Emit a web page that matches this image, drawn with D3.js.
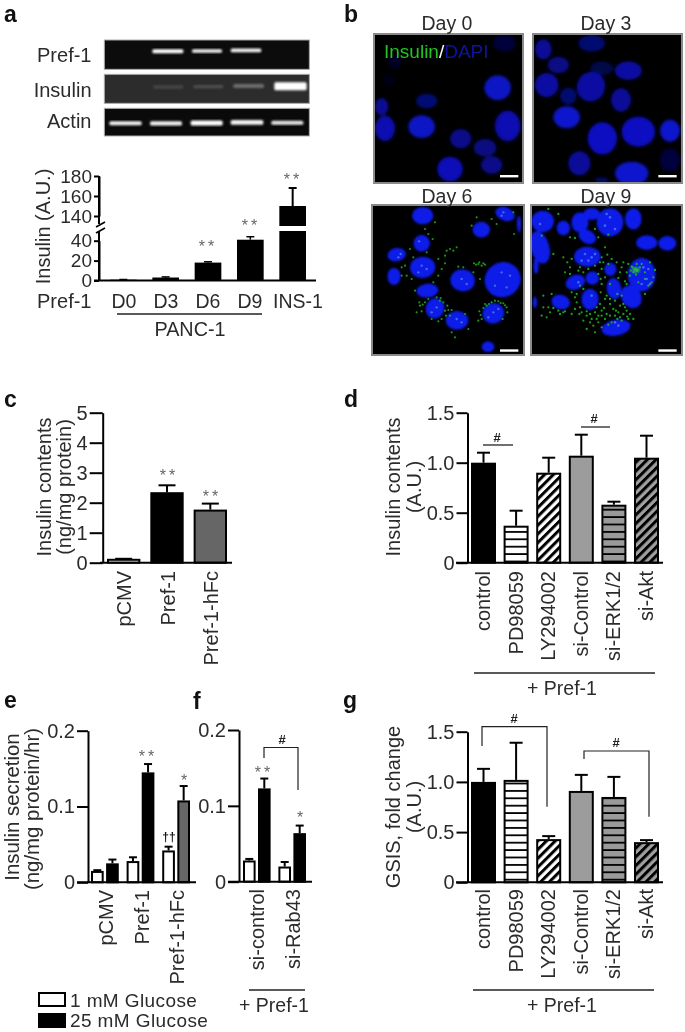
<!DOCTYPE html>
<html><head><meta charset="utf-8">
<script src="https://cdn.jsdelivr.net/npm/d3@7"></script>
<style>
html,body{margin:0;padding:0;background:#fff;width:685px;height:1032px;overflow:hidden}
svg{display:block;filter:blur(0.4px)}
text{font-family:"Liberation Sans",Arial,sans-serif;fill:#2b2b2b}
</style></head><body>
<svg id="c" width="685" height="1032"></svg>
<script>
// ---------- gel data (relative band intensity; lane order D0 D3 D6 D9 INS-1)
const gelRows = ["Pref-1","Insulin","Actin"];
const gelPref = [0,1,0.95,0.95,0];
const gelIns  = [0,0.16,0.22,0.42,1];
const gelAct  = [0.95,0.95,1,0.95,0.9];
const gelThick = [[0,12,10,11,0],[0,10,10,12,24],[12,13,15,14,12]];

// ---------- panel a
const aCats = ["D0","D3","D6","D9","INS-1"];
const aVals = [0.8,3,18,41,150];
const aErr  = [1,3.6,18.8,44,168];
const aLowTicks = [0,20,40];
const aHighTicks = [140,160,180];
// ---------- panel c
const cCats = ["pCMV","Pref-1","Pref-1-hFc"];
const cVals = [0.13,2.35,1.77];
const cErr  = [0.13,2.58,1.97];
const cTicks = [0,1,2,3,4,5];
// ---------- panel d
const dCats = ["control","PD98059","LY294002","si-Control","si-ERK1/2","si-Akt"];
const dVals = [1.0,0.37,0.9,1.07,0.58,1.05];
const dErr  = [1.1,0.52,1.05,1.28,0.61,1.27];
const fracTicks = [0,0.5,1.0,1.5];
// ---------- panel e
const eCats = ["pCMV","Pref-1","Pref-1-hFc"];
const eLow  = [0.015,0.028,0.042];
const eHigh = [0.025,0.145,0.108];
const eLowErr  = [0.016,0.033,0.047];
const eHighErr = [0.030,0.156,0.127];
const secTicks = [0,0.1,0.2];
// ---------- panel f
const fCats = ["si-control","si-Rab43"];
const fLow  = [0.028,0.02];
const fHigh = [0.123,0.064];
const fLowErr  = [0.030,0.026];
const fHighErr = [0.136,0.074];
// ---------- panel g
const gCats = dCats;
const gVals = [1.0,1.02,0.43,0.91,0.85,0.40];
const gErr  = [1.13,1.39,0.46,1.07,1.05,0.42];
const legendLabels = ["1 mM Glucose","25 mM Glucose"];

// ---------- micrographs: nuclei [cx,cy,rx,ry,rot]
const day0Nuclei = [[458,263,40,37,0,1],[230,380,40,34,0,1],[120,385,30,38,0,.9],[488,378,38,46,0,.9],[347,416,32,29,0,.7],[420,443,34,27,0,.65],[440,495,32,27,0,.7],[315,507,38,37,0,.95],[245,303,32,22,0,.6],[110,320,20,26,0,.75],[478,130,34,25,0,.3],[150,185,20,20,0,.2],[130,240,20,20,0,.1]];
const day3Nuclei = [[605,255,35,36,0,.8],[595,148,25,30,0,.75],[640,195,32,25,0,.65],[738,260,42,45,20,.8],[850,212,40,28,0,.8],[770,205,35,22,0,.35],[740,130,40,25,0,.55],[670,288,25,25,0,.55],[828,300,30,35,0,.75],[665,352,40,33,0,1],[772,415,44,48,0,.95],[880,395,50,45,0,.95],[975,392,30,33,0,1],[703,490,33,36,0,.75],[860,520,50,35,0,1],[975,480,30,35,0,.3],[770,540,20,8,0,.5]];
const day6Nuclei = [[158,35,32,26,0],[334,77,26,24,0],[155,118,25,25,0],[80,152,28,20,-10],[72,217,20,26,0],[158,190,38,32,-5],[278,229,37,33,10],[398,227,55,52,-30],[172,260,33,21,-5],[195,313,28,31,20],[261,349,34,28,0],[370,328,33,31,-20],[405,30,30,20,20],[447,60,6,25,0],[354,428,19,16,0]];
const day9Nuclei = [[38,52,34,32,0],[100,72,20,22,0],[150,55,26,30,0],[172,98,28,20,30],[240,55,40,42,0],[310,45,25,32,0],[185,30,25,18,0],[30,130,28,50,-15],[18,185,8,25,0],[172,158,40,30,0],[350,116,32,22,0],[412,118,27,22,0],[241,196,18,20,0],[136,235,30,22,-20],[187,222,20,20,0],[252,254,22,32,-10],[180,286,26,32,0],[335,212,42,50,0],[304,278,30,36,-30],[92,294,28,22,15],[15,295,6,18,0],[258,371,44,24,-10]];
const day6Green = [[120,135],[130,160],[105,185],[95,190],[110,215],[125,225],[135,260],[190,235],[205,215],[215,195],[205,165],[225,155],[240,135],[260,130],[225,178],[265,188],[280,190],[310,205],[325,180],[340,178],[318,182],[335,185],[165,295],[150,305],[140,325],[155,322],[175,285],[200,280],[220,295],[235,318],[228,335],[215,345],[185,345],[205,352],[245,318],[255,400],[245,385],[285,330],[295,375],[328,322],[340,312],[350,305],[365,295],[385,292],[400,298],[410,310],[412,325],[398,345],[335,345],[345,300],[320,40],[305,65],[365,45],[380,60],[432,90],[430,25],[165,75],[195,55],[188,105],[175,90],[330,225],[392,297],[375,290],[357,300],[232,305],[240,335],[210,290],[148,295],[95,215],[170,145],[328,175],[345,182],[312,178],[230,140],[250,140],[225,320],[212,282],[158,302],[405,304],[332,333],[325,350]];
const day9Green = [[55,15],[85,30],[35,95],[120,100],[135,102],[195,75],[205,100],[235,92],[70,150],[100,160],[112,175],[125,165],[120,190],[145,200],[160,205],[175,195],[215,160],[232,152],[245,165],[260,175],[280,175],[295,180],[305,188],[315,195],[322,200],[310,205],[330,190],[215,195],[225,220],[215,240],[212,265],[225,285],[210,300],[222,312],[195,325],[205,335],[180,330],[170,335],[150,310],[135,280],[140,295],[160,255],[125,265],[285,232],[290,240],[240,300],[250,315],[265,325],[280,330],[290,320],[300,330],[270,340],[240,335],[225,345],[205,355],[190,365],[215,370],[200,345],[295,345],[310,345],[285,310],[255,290],[345,270],[375,198],[360,175],[345,225],[355,245],[345,205],[325,235],[100,325],[105,322],[85,320],[70,312],[60,325],[50,340],[35,335],[40,275],[65,270],[135,315],[90,330],[125,330],[160,350],[180,355],[240,240],[270,205],[275,275],[225,130],[290,205],[300,215],[230,330],[245,355],[170,375],[195,385],[40,310],[55,310],[275,350],[270,305],[262,270],[220,175],[235,180],[205,210],[275,190],[265,222],[212,225],[230,275],[240,285],[215,320],[255,335],[185,345],[170,322],[155,325],[148,330],[140,270],[150,245],[120,210],[105,205],[150,190],[195,185],[210,175],[320,180],[302,200],[318,212],[308,190],[335,180],[370,220],[365,235],[280,300],[292,338],[258,320],[262,345],[215,335],[235,362],[200,310]];
const day6Spots = [[147,112],[92,150],[85,160],[155,185],[170,195],[145,205],[275,225],[290,240],[395,205],[410,250],[375,245],[420,215],[200,310],[185,325],[260,345],[275,355],[370,325],[385,315],[355,340],[400,25],[395,35]];
const day9Spots = [[165,150],[185,160],[155,170],[175,170],[195,150],[240,40],[225,65],[255,75],[230,30],[340,190],[355,195],[350,225],[360,240],[335,240],[255,355],[265,365],[145,235],[30,60],[185,275]];
const scaleBarsB = [[465,520,528],[940,995,528]];

const svg = d3.select("#c");
const defs = svg.append("defs");
function blurF(id,s){defs.append("filter").attr("id",id).attr("x","-30%").attr("y","-30%").attr("width","160%").attr("height","160%").append("feGaussianBlur").attr("stdDeviation",s);}
blurF("b1",1);blurF("b3",1.7);blurF("bBand",0.9);blurF("bDot",0.6);
function pat(id,bg,kind){
  const p=defs.append("pattern").attr("id",id).attr("patternUnits","userSpaceOnUse");
  if(kind==="h"){p.attr("width",10).attr("height",7.4);
    p.append("rect").attr("width",10).attr("height",7.4).attr("fill",bg);
    p.append("rect").attr("y",5.6).attr("width",10).attr("height",1.9).attr("fill","#000");
  } else {p.attr("width",6.2).attr("height",6.2).attr("patternTransform","rotate(45)");
    p.append("rect").attr("width",6.2).attr("height",6.2).attr("fill",bg);
    p.append("rect").attr("width",3).attr("height",6.2).attr("fill","#000");
  }
}
pat("hw","#fff","h");pat("hg","#9a9a9a","h");pat("dw","#fff","d");pat("dg","#a0a0a0","d");
const sixFills=["#000","url(#hw)","url(#dw)","#9c9c9c","url(#hg)","url(#dg)"];

function txt(x,y,s,o={}){
  const t=svg.append("text").attr("x",x).attr("y",y).text(s)
    .attr("font-size",o.size||19).attr("text-anchor",o.anchor||"start");
  if(o.weight)t.attr("font-weight",o.weight);
  if(o.fill)t.style("fill",o.fill);
  if(o.ls)t.attr("letter-spacing",o.ls);
  if(o.rot)t.attr("transform",`rotate(-90 ${x} ${y})`);
  return t;
}
function line(x1,y1,x2,y2,w=1.3,c="#222"){svg.append("line").attr("x1",x1).attr("y1",y1).attr("x2",x2).attr("y2",y2).attr("stroke",c).attr("stroke-width",w);}
function stars(x,cy,s){txt(x,cy+9,s,{size:16,anchor:"middle",fill:"#666",ls:s.length>1?"3px":null});}
function hash(x,cy){txt(x,cy+5,"#",{size:13,anchor:"middle",weight:"bold",fill:"#222"});}
function bracket(x1,x2,top,b1,b2){svg.append("path").attr("d",`M${x1},${b1}V${top}H${x2}V${b2}`).attr("fill","none").attr("stroke","#222").attr("stroke-width",1.2);}

function yAxis(y,x,ticks,fmt,tickLen,size,pad){
  const g=svg.append("g").attr("transform",`translate(${x},0)`)
    .call(d3.axisLeft(y).tickValues(ticks).tickSize(tickLen).tickPadding(pad).tickFormat(fmt).tickSizeOuter(0));
  g.selectAll("path,line").attr("stroke","#000").attr("stroke-width",2);
  g.selectAll("text").attr("font-size",size).attr("font-family",null);
  return g;
}
function xBaseline(x1,x2,y){line(x1,y,x2,y,2,"#000");}
function bar(x,w,y0,yT,fill,sw=2){
  svg.append("rect").attr("x",x+sw/2).attr("y",yT+sw/2).attr("width",w-sw).attr("height",Math.max(0,y0-yT-sw/2)).attr("fill",fill).attr("stroke","#000").attr("stroke-width",sw);
}
function err(cx,yFrom,yTo,cap,w=2){line(cx,yFrom,cx,yTo,w,"#000");line(cx-cap/2,yTo,cx+cap/2,yTo,w,"#000");}
function xLabels(cats,centers,top,dx,size=20){cats.forEach((c,i)=>txt(centers[i]+dx,top,c,{size,anchor:"end",rot:true}));}

// ---------- panel letters
[["a",4,22],["b",344,22],["c",4,407],["d",344,407],["e",4,708],["f",193,709],["g",343,708]]
  .forEach(d=>txt(d[1],d[2],d[0],{size:23,weight:"bold",fill:"#111"}));

// ---------- gel
const gelX=d3.scaleLinear().domain([0,636]).range([100,312]);
const gelY=d3.scaleLinear().domain([0,312]).range([36,140]);
const gelBoxes=[[12,100,"#0c0c0c"],[115,202,"#2c2c2c"],[217,300,"#0a0a0a"]];
const gelLanes=[[[36,126],[157,250],[276,366],[392,484],[523,620]],[[36,126],[160,250],[280,370],[400,492],[523,620]],[[28,125],[150,246],[272,368],[392,490],[514,610]]];
const gelCY=[[46,46,45,43,43],[152,153,152,150,151],[262,262,261,259,260,260]];
const gelLbl=[62,97,128];
[gelPref,gelIns,gelAct].forEach((row,r)=>{
  const b=gelBoxes[r];
  svg.append("rect").attr("x",gelX(13)).attr("y",gelY(b[0])).attr("width",gelX(628)-gelX(13)).attr("height",gelY(b[1])-gelY(b[0]))
    .attr("fill",b[2]).attr("stroke","#aaa").attr("stroke-width",1);
  row.forEach((v,i)=>{ if(!v)return;
    const l=gelLanes[r][i],h=gelThick[r][i];
    const lum=r===1&&i<4?"#c8c8c8":"#fff";
    svg.append("rect").attr("x",gelX(l[0])).attr("width",gelX(l[1])-gelX(l[0]))
      .attr("y",gelY(gelCY[r][i]-h/2)).attr("height",gelY(h)-gelY(0)).attr("rx",1.5)
      .attr("fill",lum).attr("opacity",v).attr("filter","url(#bBand)");
  });
  txt(91.5,gelLbl[r],gelRows[r],{size:20,anchor:"end"});
});

// ---------- panel a chart
const aLow=d3.scaleLinear().domain([0,40]).range([280.5,240.7]);
const aHigh=d3.scaleLinear().domain([140,180]).range([216,176]);
const aX=d3.scaleBand().domain(aCats).range([110,306]).paddingInner(.37);
const f0=d3.format("d");
yAxis(aLow,99,aLowTicks,f0,5,19,2);
yAxis(aHigh,99,aHighTicks,f0,5,19,2);
line(99,176,99,224,2,"#000");line(99,231,99,280.5,2,"#000");
line(96,227,105,222,1.6,"#000");line(96,233,105,228,1.6,"#000");
aCats.forEach((c,i)=>{
  const x=aX(c),w=aX.bandwidth(),cx=x+w/2;
  if(aVals[i]>100){
    err(cx,aHigh(aVals[i]),aHigh(aErr[i]),8);
    svg.append("rect").attr("x",x).attr("y",aHigh(aVals[i])).attr("width",w).attr("height",226-aHigh(aVals[i])).attr("fill","#000");
    svg.append("rect").attr("x",x).attr("y",231).attr("width",w).attr("height",aLow(0)-231).attr("fill","#000");
  } else {
    err(cx,aLow(aVals[i]),aLow(aErr[i]),8,1.5);
    svg.append("rect").attr("x",x).attr("y",aLow(aVals[i])).attr("width",w).attr("height",aLow(0)-aLow(aVals[i])).attr("fill","#000");
  }
});
xBaseline(94,316,280.5);
txt(50,226.5,"Insulin (A.U.)",{size:20,anchor:"middle",rot:true});
stars(208,243,"**");stars(251,222,"**");stars(293,176,"**");
txt(91.5,308,"Pref-1",{size:20,anchor:"end"});
[["D0",124],["D3",166],["D6",208],["D9",250],["INS-1",298]].forEach(d=>txt(d[1],308,d[0],{size:19.5,anchor:"middle"}));
line(117,314,262,314,1.4);
txt(190,336,"PANC-1",{size:19.8,anchor:"middle"});

// ---------- micrographs
const bX=d3.scaleLinear().domain([0,1]).range([345,345+1/3]);
const bY=d3.scaleLinear().domain([0,1]).range([0,1/3]);
const x6=d3.scaleLinear().domain([0,3]).range([370,371]);
const y6=d3.scaleLinear().domain([0,3]).range([204,205]);
const x9=d3.scaleLinear().domain([0,3]).range([530,531]);
function frame(id,x,y,w,h){
  defs.append("clipPath").attr("id",id).append("rect").attr("x",x).attr("y",y).attr("width",w).attr("height",h);
  svg.append("rect").attr("x",x-1).attr("y",y-1).attr("width",w+2).attr("height",h+2).attr("fill","#000").attr("stroke","#8a8a8a").attr("stroke-width",2);
  return svg.append("g").attr("clip-path",`url(#${id})`);
}
function nuclei(g,arr,X,Y,color,blur){
  g.append("g").attr("filter",`url(#${blur})`).selectAll("ellipse").data(arr).join("ellipse")
    .attr("rx",d=>d[2]/3).attr("ry",d=>d[3]/3)
    .attr("transform",d=>`translate(${X(d[0])},${Y(d[1])}) rotate(${d[4]})`)
    .attr("fill",color).attr("opacity",d=>d[5]===undefined?1:d[5]);
}
function dots(g,arr,X,Y,color,r,op){
  g.append("g").attr("filter","url(#bDot)").selectAll("circle").data(arr).join("circle")
    .attr("cx",d=>X(d[0])).attr("cy",d=>Y(d[1])).attr("r",r).attr("fill",color).attr("opacity",op);
}
const g0=frame("m0",375,35,147,147); nuclei(g0,day0Nuclei,bX,bY,"#0a12c4","b3");
const g3=frame("m3",534,35,147,147); nuclei(g3,day3Nuclei,bX,bY,"#0a12cc","b3");
const g6=frame("m6",373,206,150,148); nuclei(g6,day6Nuclei,x6,y6,"#0a1ce8","b1");
dots(g6,day6Spots,x6,y6,"#5a9cff",1.2,.6); dots(g6,day6Green,x6,y6,"#1fae1f",1.1,.85);
const g9=frame("m9",532,206,149,148); nuclei(g9,day9Nuclei,x9,y6,"#0a1ce8","b1");
dots(g9,day9Spots,x9,y6,"#5a9cff",1.3,.6); dots(g9,day9Green,x9,y6,"#22b822",1.15,.85);
g9.append("ellipse").attr("cx",x9(318)).attr("cy",y6(198)).attr("rx",4).attr("ry",3).attr("fill","#2fc92f").attr("opacity",.8).attr("filter","url(#b1)");
[[scaleBarsB[0][0],scaleBarsB[0][1],528],[scaleBarsB[1][0],scaleBarsB[1][1],528],[465,520,1051],[940,995,1051]].forEach(b=>
  svg.append("rect").attr("x",bX(b[0])).attr("width",bX(b[1])-bX(b[0])).attr("y",bY(b[2])-1).attr("height",2.4).attr("fill","#fff"));
txt(447,30,"Day 0",{size:19.5,anchor:"middle"});txt(606,30,"Day 3",{size:19.5,anchor:"middle"});
txt(447,203,"Day 6",{size:19.5,anchor:"middle"});txt(606,203,"Day 9",{size:19.5,anchor:"middle"});
const ins=svg.append("text").attr("x",384).attr("y",58).attr("font-size",19);
ins.append("tspan").text("Insulin").style("fill","#22c422");
ins.append("tspan").text("/").style("fill","#fff");
ins.append("tspan").text("DAPI").style("fill","#0c14a8");

// ---------- panel c
const cY=d3.scaleLinear().domain([0,5]).range([562.7,412.7]);
const cX=d3.scaleBand().domain(cCats).range([107,227]).paddingInner(.23);
yAxis(cY,102.7,cTicks,f0,13,20,2);
const cFills=["#fff","#000","#666"];
cCats.forEach((c,i)=>{const x=cX(c),w=cX.bandwidth();
  err(x+w/2,cY(cVals[i]),cY(cErr[i]),17);bar(x,w,cY(0),cY(cVals[i]),cFills[i]);});
xBaseline(100,232,562.7);
xLabels(cCats,cCats.map(c=>cX(c)+cX.bandwidth()/2),571,7.5);
txt(51,487,"Insulin contents",{size:20,anchor:"middle",rot:true});
txt(71,487,"(ng/mg protein)",{size:20,anchor:"middle",rot:true});
stars(169,472,"**");stars(212,493,"**");

// ---------- panels d and g
const fracFmt=d=>d===0?"0":d3.format(".1f")(d);
function sixPanel(vals,errs,y0,yTop,lblTop){
  const Y=d3.scaleLinear().domain([0,1.5]).range([y0,yTop]);
  const X=d3.scaleBand().domain(dCats).range([471,659]).paddingInner(.233);
  yAxis(Y,467.5,fracTicks,fracFmt,11,20,2);
  dCats.forEach((c,i)=>{const x=X(c),w=X.bandwidth();
    err(x+w/2,Y(vals[i]),Y(errs[i]),13);bar(x,w,Y(0),Y(vals[i]),sixFills[i]);});
  xBaseline(456,663,y0);
  xLabels(dCats,dCats.map(c=>X(c)+X.bandwidth()/2),lblTop,6.5);
}
sixPanel(dVals,dErr,562.7,412.7,571);
txt(400,487,"Insulin contents",{size:20,anchor:"middle",rot:true});
txt(421,487,"(A.U.)",{size:20,anchor:"middle",rot:true});
line(483,445,513,445);hash(497,437);line(581,427,610,427);hash(594,418);
line(474,673,655,673,1.4);txt(562,695,"+ Pref-1",{size:19.5,anchor:"middle"});

sixPanel(gVals,gErr,882.3,731.7,889);
txt(400,807,"GSIS, fold change",{size:20,anchor:"middle",rot:true});
txt(421,807,"(A.U.)",{size:20,anchor:"middle",rot:true});
bracket(482,547,726.7,746,806.7);hash(514,718);
bracket(584,649,751,759,816.7);hash(616,742);
line(473,990,654,990,1.4);txt(562,1012,"+ Pref-1",{size:19.5,anchor:"middle"});

// ---------- panels e and f
function pairPanel(cats,low,high,lowE,highE,range,y0,yTop,axX,tickL,baseX2,hiFills){
  const Y=d3.scaleLinear().domain([0,0.2]).range([y0,yTop]);
  const X=d3.scaleBand().domain(cats).range(range).paddingInner(.22);
  const S=d3.scaleBand().domain([0,1]).range([0,X.bandwidth()]).paddingInner(.16);
  yAxis(Y,axX,secTicks,d=>d===0?"0":d3.format(".1f")(d),tickL,20,2);
  cats.forEach((c,i)=>{
    const xl=X(c)+S(0),xh=X(c)+S(1),w=S.bandwidth();
    err(xl+w/2,Y(low[i]),Y(lowE[i]),8);err(xh+w/2,Y(high[i]),Y(highE[i]),8);
    bar(xl,w,Y(0),Y(low[i]),"#fff");bar(xh,w,Y(0),Y(high[i]),hiFills[i]);
  });
  xBaseline(axX-tickL,baseX2,y0);
  return cats.map(c=>X(c)+X.bandwidth()/2);
}
const eC=pairPanel(eCats,eLow,eHigh,eLowErr,eHighErr,[91,190],882.3,730.7,88,11,196,["#000","#000","#666"]);
xLabels(eCats,eC,890,8);
txt(19,807,"Insulin secretion",{size:20.4,anchor:"middle",rot:true});
txt(39,809,"(ng/mg protein/hr)",{size:20.4,anchor:"middle",rot:true});
stars(148,753,"**");stars(184,777,"*");
txt(169,841,"††",{size:12,anchor:"middle",weight:"bold",fill:"#111"});

const fC=pairPanel(fCats,fLow,fHigh,fLowErr,fHighErr,[243,306],881.7,730,239,11,312,["#000","#000"]);
xLabels(fCats,fC,889,7.5);
bracket(264,298,747.5,758,790);hash(282,739);
stars(264,769,"**");stars(300,814,"*");
line(249,990,305,990,1.4);txt(274,1012,"+ Pref-1",{size:19.5,anchor:"middle"});

// ---------- legend
[["#fff",993],["#000",1014]].forEach(d=>svg.append("rect").attr("x",39).attr("y",d[1]).attr("width",26).attr("height",13).attr("fill",d[0]).attr("stroke","#000").attr("stroke-width",2));
legendLabels.forEach((l,i)=>txt(70,i?1027:1007,l,{size:19,ls:"0.4px"}));
</script></body></html>
